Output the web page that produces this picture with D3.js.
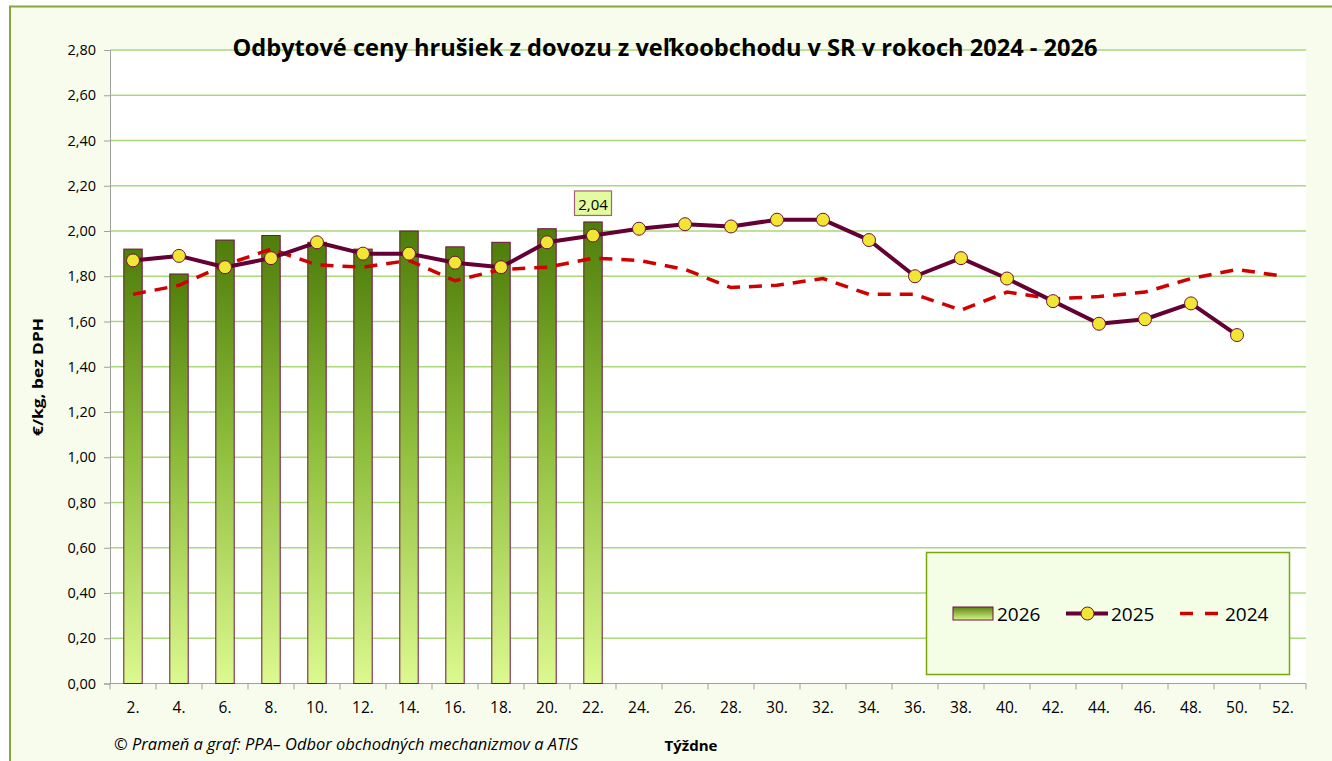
<!DOCTYPE html>
<html>
<head>
<meta charset="utf-8">
<script src="https://cdn.jsdelivr.net/npm/d3@7/dist/d3.min.js"></script>
<style>
  body { margin: 0; background: #fff; }
  text { font-family: "Open Sans", "DejaVu Sans", sans-serif; fill: #000; }
</style>
</head>
<body>
<div id="chart"></div>
<script>
var weeks = ["2.", "4.", "6.", "8.", "10.", "12.", "14.", "16.", "18.", "20.", "22.", "24.", "26.",
             "28.", "30.", "32.", "34.", "36.", "38.", "40.", "42.", "44.", "46.", "48.", "50.", "52."];
var values2026 = [1.92, 1.81, 1.96, 1.98, 1.95, 1.92, 2.00, 1.93, 1.95, 2.01, 2.04];
var values2025 = [1.87, 1.89, 1.84, 1.88, 1.95, 1.90, 1.90, 1.86, 1.84, 1.95, 1.98, 2.01, 2.03,
                  2.02, 2.05, 2.05, 1.96, 1.80, 1.88, 1.79, 1.69, 1.59, 1.61, 1.68, 1.54];
var values2024 = [1.72, 1.76, 1.85, 1.92, 1.85, 1.84, 1.87, 1.78, 1.83, 1.84, 1.88, 1.87, 1.83,
                  1.75, 1.76, 1.79, 1.72, 1.72, 1.65, 1.73, 1.70, 1.71, 1.73, 1.79, 1.83, 1.80];
var yTicks = [0, 0.2, 0.4, 0.6, 0.8, 1.0, 1.2, 1.4, 1.6, 1.8, 2.0, 2.2, 2.4, 2.6, 2.8];

var W = 1332, H = 761;
var margin = {top: 50, right: 26, bottom: 77.5, left: 110};

var svg = d3.select("#chart").append("svg")
    .attr("width", W)
    .attr("height", H);

var defs = svg.append("defs");
var grad = defs.append("linearGradient")
    .attr("id", "barGrad")
    .attr("x1", 0).attr("y1", 0).attr("x2", 0).attr("y2", 1);
grad.append("stop").attr("offset", "0%").attr("stop-color", "#4f7d0b");
grad.append("stop").attr("offset", "45%").attr("stop-color", "#8cbc3a");
grad.append("stop").attr("offset", "100%").attr("stop-color", "#dcf98f");

// outer chart frame
svg.append("rect")
    .attr("x", 10).attr("y", 6.5)
    .attr("width", W + 20).attr("height", H + 20)
    .attr("fill", "#f7fcec")
    .attr("stroke", "#86a83a")
    .attr("stroke-width", 2);

var x = d3.scaleBand()
    .domain(weeks)
    .range([margin.left, W - margin.right]);

var y = d3.scaleLinear()
    .domain([0, 2.8])
    .range([H - margin.bottom, margin.top]);

// plot area
svg.append("rect")
    .attr("x", margin.left).attr("y", margin.top)
    .attr("width", W - margin.right - margin.left)
    .attr("height", y(0) - margin.top)
    .attr("fill", "#fff");

// gridlines
svg.append("g")
    .selectAll("line")
    .data(yTicks.slice(1))
    .enter().append("line")
    .attr("x1", margin.left).attr("x2", W - margin.right)
    .attr("y1", function(d) { return y(d); })
    .attr("y2", function(d) { return y(d); })
    .attr("stroke", "#a9d97a")
    .attr("stroke-width", 1.3);

// y axis
var yAxis = d3.axisLeft(y)
    .tickValues(yTicks)
    .tickSize(6)
    .tickPadding(8)
    .tickFormat(function(d) { return d3.format(".2f")(d).replace(".", ","); });

var gy = svg.append("g")
    .attr("transform", "translate(" + margin.left + ",0)")
    .call(yAxis);
gy.select(".domain").attr("stroke", "#a0a0a0");
gy.selectAll(".tick line").attr("stroke", "#a0a0a0");
gy.selectAll(".tick text")
    .style("font-family", "'Open Sans', sans-serif")
    .style("font-size", "14.5px")
    .attr("fill", "#000");

// x axis
var gx = svg.append("g")
    .attr("transform", "translate(0," + y(0) + ")");
gx.append("line")
    .attr("x1", margin.left).attr("x2", W - margin.right)
    .attr("stroke", "#a0a0a0");
gx.selectAll(".xt")
    .data(weeks.concat(["end"]))
    .enter().append("line")
    .attr("class", "xt")
    .attr("x1", function(d, i) { return margin.left + i * x.bandwidth(); })
    .attr("x2", function(d, i) { return margin.left + i * x.bandwidth(); })
    .attr("y1", 0).attr("y2", 6)
    .attr("stroke", "#a0a0a0");
gx.selectAll(".xl")
    .data(weeks)
    .enter().append("text")
    .attr("class", "xl")
    .attr("x", function(d) { return x(d) + x.bandwidth() / 2; })
    .attr("y", 29)
    .attr("text-anchor", "middle")
    .style("font-size", "15.5px")
    .text(function(d) { return d; });

// bars 2026
var bw = x.bandwidth() * 0.4;
svg.append("g")
    .selectAll("rect")
    .data(values2026)
    .enter().append("rect")
    .attr("x", function(d, i) { return x(weeks[i]) + (x.bandwidth() - bw) / 2; })
    .attr("y", function(d) { return y(d); })
    .attr("width", bw)
    .attr("height", function(d) { return y(0) - y(d); })
    .attr("fill", "url(#barGrad)")
    .attr("stroke", "#6e1240")
    .attr("stroke-width", 1);

var cx = function(d, i) { return x(weeks[i]) + x.bandwidth() / 2; };

// 2024 dashed line
var line = d3.line()
    .x(function(d, i) { return x(weeks[i]) + x.bandwidth() / 2; })
    .y(function(d) { return y(d); });

svg.append("path")
    .datum(values2024)
    .attr("d", line)
    .attr("fill", "none")
    .attr("stroke", "#d00000")
    .attr("stroke-width", 3.5)
    .attr("stroke-dasharray", "13,9");

// 2025 line with markers
svg.append("path")
    .datum(values2025)
    .attr("d", line)
    .attr("fill", "none")
    .attr("stroke", "#650034")
    .attr("stroke-width", 4)
    .attr("stroke-linejoin", "round");

svg.append("g")
    .selectAll("circle")
    .data(values2025)
    .enter().append("circle")
    .attr("cx", cx)
    .attr("cy", function(d) { return y(d); })
    .attr("r", 6.5)
    .attr("fill", "#f2e634")
    .attr("stroke", "#6e1240")
    .attr("stroke-width", 1);

// data label for last bar
var li = values2026.length - 1;
var lx = x(weeks[li]) + x.bandwidth() / 2;
var ly = y(values2026[li]);
svg.append("rect")
    .attr("x", lx - 18.5).attr("y", ly - 31)
    .attr("width", 37).attr("height", 24.5)
    .attr("fill", "#e2fc9f")
    .attr("stroke", "#a5607f")
    .attr("stroke-width", 1.2);
svg.append("text")
    .attr("x", lx).attr("y", ly - 12)
    .attr("text-anchor", "middle")
    .style("font-size", "15px")
    .text(d3.format(".2f")(values2026[li]).replace(".", ","));

// title
svg.append("text")
    .attr("x", 665).attr("y", 56)
    .attr("text-anchor", "middle")
    .attr("textLength", 865)
    .attr("lengthAdjust", "spacingAndGlyphs")
    .style("font-size", "23px")
    .style("font-weight", "bold")
    .text("Odbytové ceny hrušiek z dovozu z veľkoobchodu v SR v rokoch 2024 - 2026");

// axis titles
svg.append("text")
    .attr("transform", "translate(43,377) rotate(-90)")
    .attr("text-anchor", "middle")
    .attr("textLength", 118)
    .attr("lengthAdjust", "spacingAndGlyphs")
    .style("font-size", "15px")
    .style("font-weight", "bold")
    .text("€/kg, bez DPH");

svg.append("text")
    .attr("x", 691).attr("y", 751)
    .attr("text-anchor", "middle")
    .attr("textLength", 53)
    .attr("lengthAdjust", "spacingAndGlyphs")
    .style("font-size", "14.5px")
    .style("font-weight", "bold")
    .text("Týždne");

svg.append("text")
    .attr("x", 114).attr("y", 750)
    .attr("textLength", 464)
    .attr("lengthAdjust", "spacingAndGlyphs")
    .style("font-size", "16.5px")
    .style("font-style", "italic")
    .text("© Prameň a graf: PPA– Odbor obchodných mechanizmov a ATIS");

// legend
var lg = svg.append("g");
lg.append("rect")
    .attr("x", 926.5).attr("y", 552.5)
    .attr("width", 363).attr("height", 122)
    .attr("fill", "#f4fde6")
    .attr("stroke", "#7aa80a")
    .attr("stroke-width", 1.5);

var legY = 613.5;
var lgGrad = defs.append("linearGradient")
    .attr("id", "legGrad")
    .attr("x1", 0).attr("y1", 0).attr("x2", 0).attr("y2", 1);
lgGrad.append("stop").attr("offset", "0%").attr("stop-color", "#5a8512");
lgGrad.append("stop").attr("offset", "100%").attr("stop-color", "#d8f58a");

lg.append("rect")
    .attr("x", 953).attr("y", legY - 6.5)
    .attr("width", 40).attr("height", 13)
    .attr("fill", "url(#legGrad)")
    .attr("stroke", "#6e1240");
lg.append("text")
    .attr("x", 997).attr("y", legY + 7)
    .style("font-size", "19px")
    .text("2026");

lg.append("line")
    .attr("x1", 1066).attr("x2", 1108)
    .attr("y1", legY).attr("y2", legY)
    .attr("stroke", "#650034")
    .attr("stroke-width", 4);
lg.append("circle")
    .attr("cx", 1087.5).attr("cy", legY)
    .attr("r", 6.5)
    .attr("fill", "#f2e634")
    .attr("stroke", "#6e1240");
lg.append("text")
    .attr("x", 1111).attr("y", legY + 7)
    .style("font-size", "19px")
    .text("2025");

lg.append("line")
    .attr("x1", 1180).attr("x2", 1219)
    .attr("y1", legY).attr("y2", legY)
    .attr("stroke", "#d00000")
    .attr("stroke-width", 3.5)
    .attr("stroke-dasharray", "13,12");
lg.append("text")
    .attr("x", 1225).attr("y", legY + 7)
    .style("font-size", "19px")
    .text("2024");
</script>
</body>
</html>
